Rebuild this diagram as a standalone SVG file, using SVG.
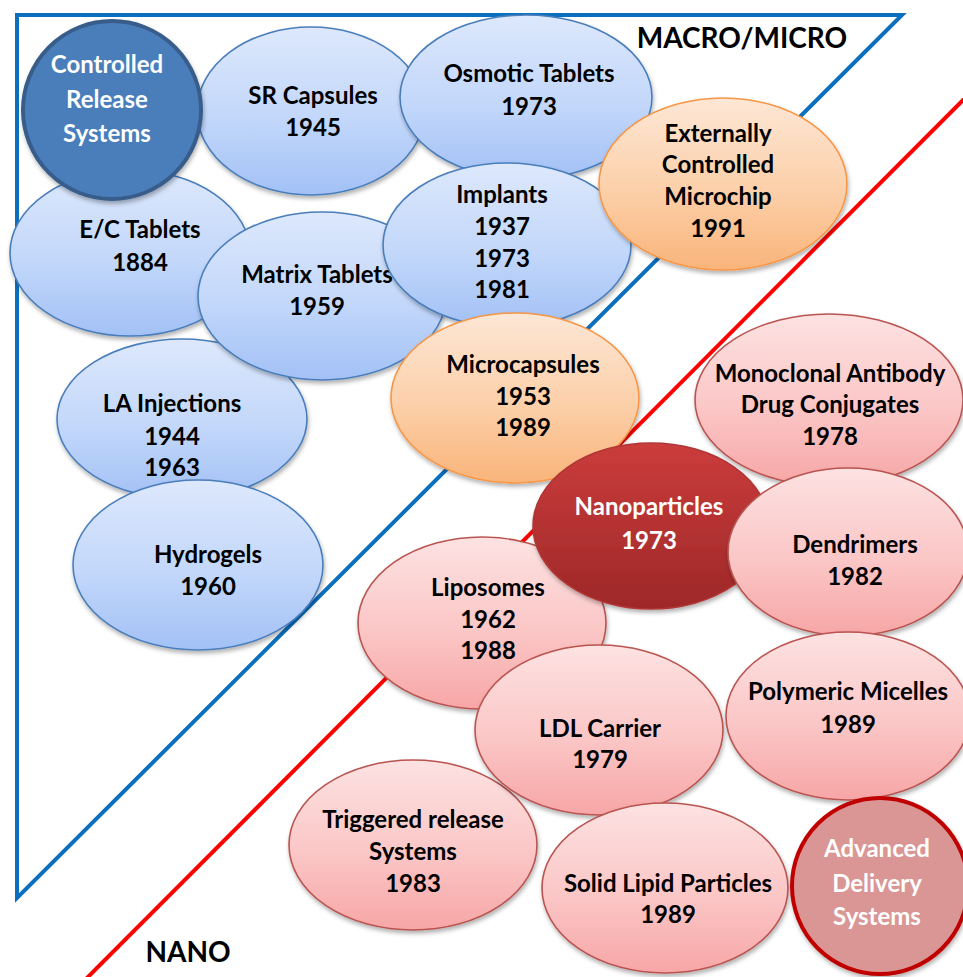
<svg xmlns="http://www.w3.org/2000/svg" width="963" height="977" viewBox="0 0 963 977">
<defs>
<linearGradient id="gBlue" x1="0" y1="0" x2="0" y2="1"><stop offset="0" stop-color="#dde8fc"/><stop offset="0.55" stop-color="#c2d7fa"/><stop offset="1" stop-color="#a3c1f6"/></linearGradient>
<linearGradient id="gPink" x1="0" y1="0" x2="0" y2="1"><stop offset="0" stop-color="#fde2e2"/><stop offset="0.55" stop-color="#fbc6c6"/><stop offset="1" stop-color="#f7a6a6"/></linearGradient>
<linearGradient id="gOrange" x1="0" y1="0" x2="0" y2="1"><stop offset="0" stop-color="#fde7d6"/><stop offset="0.55" stop-color="#fccfa8"/><stop offset="1" stop-color="#f9b47a"/></linearGradient>
<linearGradient id="gNano" x1="0" y1="0" x2="0" y2="1"><stop offset="0" stop-color="#cb3c3c"/><stop offset="1" stop-color="#9e2828"/></linearGradient>
<filter id="sh" x="-10%" y="-10%" width="125%" height="130%"><feDropShadow dx="1" dy="3" stdDeviation="2" flood-color="#000" flood-opacity="0.3"/></filter>
</defs>
<style>
.b{fill:url(#gBlue);stroke:#4a7ebb;stroke-width:1.6;filter:url(#sh)}
.p{fill:url(#gPink);stroke:#b95451;stroke-width:1.6;filter:url(#sh)}
.o{fill:url(#gOrange);stroke:#f79646;stroke-width:1.6;filter:url(#sh)}
text{font-family:Lato,"Liberation Sans",sans-serif;font-weight:bold;font-size:24px;fill:#000;text-anchor:middle}
.w{fill:#fff}
.big{font-size:28px}
</style>
<rect width="963" height="977" fill="#fff"/>
<g id="connectors">
<path d="M17,15 H902 L17,898 Z" fill="none" stroke="#0b6fc0" stroke-width="4" stroke-linejoin="miter"/>
<line x1="1000" y1="63" x2="60" y2="1005" stroke="#ff0000" stroke-width="4"/>
</g>
<g id="label-macro"><text class="big" x="742" y="48">MACRO/MICRO</text></g>
<g id="label-nano"><text class="big" x="188" y="962">NANO</text></g>
<g id="sr-capsules"><ellipse class="b" cx="311" cy="111" rx="114" ry="84"/><text x="313" y="104">SR Capsules</text><text x="313" y="136">1945</text></g>
<g id="osmotic"><ellipse class="b" cx="526" cy="97" rx="126" ry="82"/><text x="529" y="82">Osmotic Tablets</text><text x="529" y="115">1973</text></g>
<g id="ec-tablets"><ellipse class="b" cx="130" cy="253" rx="120" ry="83"/><text x="140" y="238">E/C Tablets</text><text x="140" y="271">1884</text></g>
<g id="controlled-release"><circle cx="112" cy="110" r="89" fill="#4a7ebb" stroke="#385d8a" stroke-width="4" filter="url(#sh)"/><text class="w" x="107" y="73">Controlled</text><text class="w" x="107" y="108">Release</text><text class="w" x="107" y="142">Systems</text></g>
<g id="la-injections"><ellipse class="b" cx="182" cy="419" rx="125" ry="80"/><text x="172" y="412">LA Injections</text><text x="172" y="445">1944</text><text x="172" y="476">1963</text></g>
<g id="matrix"><ellipse class="b" cx="322" cy="296" rx="124" ry="84"/><text x="317" y="283">Matrix Tablets</text><text x="317" y="315">1959</text></g>
<g id="implants"><ellipse class="b" cx="507" cy="245" rx="124" ry="82"/><text x="502" y="203">Implants</text><text x="502" y="235">1937</text><text x="502" y="267">1973</text><text x="502" y="298">1981</text></g>
<g id="microchip"><ellipse class="o" cx="723" cy="184" rx="124" ry="86"/><text x="718" y="142">Externally</text><text x="718" y="173">Controlled</text><text x="718" y="205">Microchip</text><text x="718" y="237">1991</text></g>
<g id="hydrogels"><ellipse class="b" cx="198" cy="565" rx="125" ry="85"/><text x="208" y="563">Hydrogels</text><text x="208" y="595">1960</text></g>
<g id="microcapsules"><ellipse class="o" cx="515" cy="398" rx="124" ry="85"/><text x="523" y="373">Microcapsules</text><text x="523" y="405">1953</text><text x="523" y="436">1989</text></g>
<g id="monoclonal"><ellipse class="p" cx="829" cy="400" rx="134" ry="86"/><text x="830" y="382">Monoclonal Antibody</text><text x="830" y="413">Drug Conjugates</text><text x="830" y="445">1978</text></g>
<g id="liposomes"><ellipse class="p" cx="482" cy="623" rx="124" ry="86"/><text x="488" y="596">Liposomes</text><text x="488" y="628">1962</text><text x="488" y="659">1988</text></g>
<g id="nanoparticles"><ellipse cx="651" cy="526" rx="118" ry="83" fill="url(#gNano)" stroke="#b03636" stroke-width="1.6" filter="url(#sh)"/><text class="w" x="649" y="515">Nanoparticles</text><text class="w" x="649" y="549">1973</text></g>
<g id="dendrimers"><ellipse class="p" cx="848" cy="552" rx="120" ry="84"/><text x="855" y="553">Dendrimers</text><text x="855" y="585">1982</text></g>
<g id="triggered"><ellipse class="p" cx="413" cy="845" rx="124" ry="85"/><text x="413" y="828">Triggered release</text><text x="413" y="860">Systems</text><text x="413" y="892">1983</text></g>
<g id="ldl"><ellipse class="p" cx="599" cy="730" rx="124" ry="85"/><text x="600" y="737">LDL Carrier</text><text x="600" y="768">1979</text></g>
<g id="polymeric"><ellipse class="p" cx="848" cy="716" rx="122" ry="84"/><text x="848" y="700">Polymeric Micelles</text><text x="848" y="733">1989</text></g>
<g id="solid-lipid"><ellipse class="p" cx="665" cy="888" rx="123" ry="85"/><text x="668" y="892">Solid Lipid Particles</text><text x="668" y="923">1989</text></g>
<g id="advanced"><circle cx="880" cy="886" r="88" fill="#d99694" stroke="#c00000" stroke-width="4" filter="url(#sh)"/><text class="w" x="877" y="857">Advanced</text><text class="w" x="877" y="892">Delivery</text><text class="w" x="877" y="925">Systems</text></g>
</svg>
